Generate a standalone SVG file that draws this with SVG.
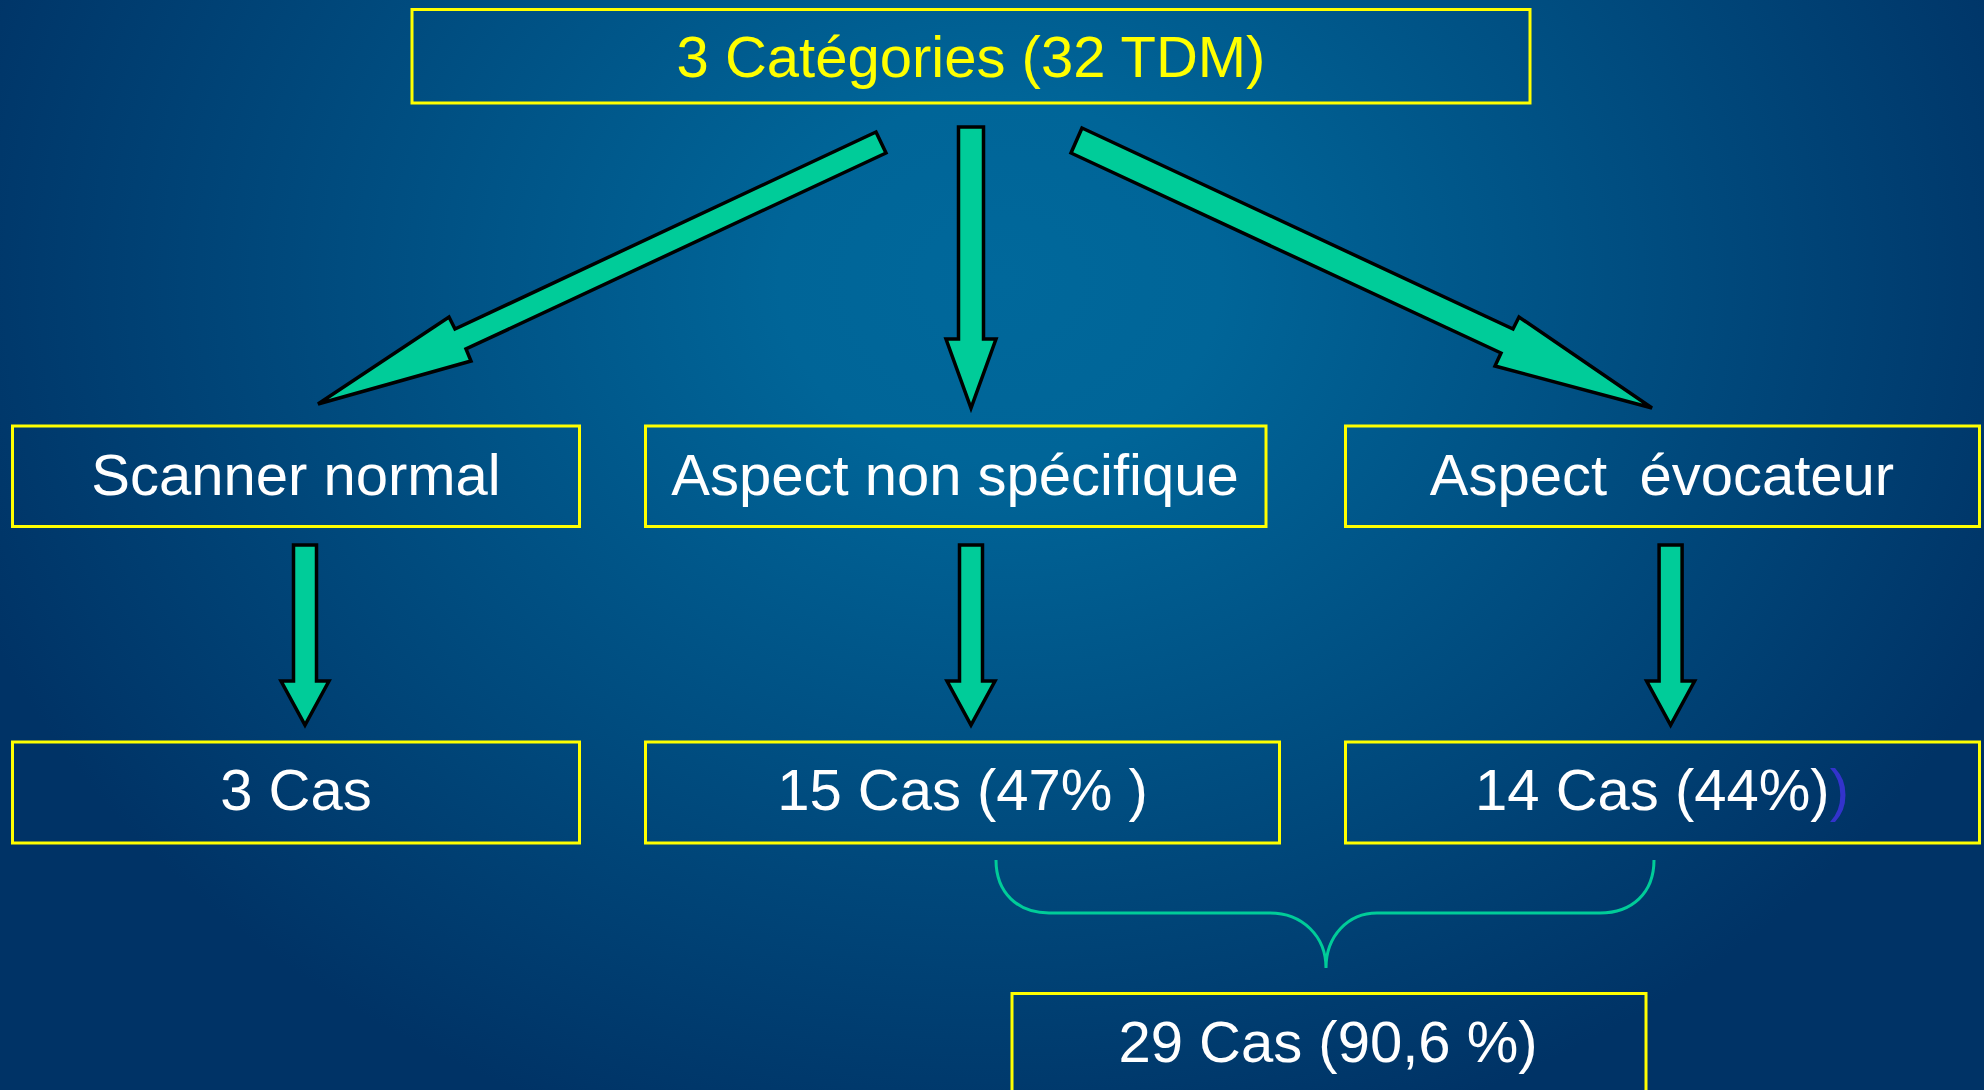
<svg xmlns="http://www.w3.org/2000/svg" width="1984" height="1090" viewBox="0 0 1984 1090">
  <defs>
    <radialGradient id="bg" gradientUnits="userSpaceOnUse" cx="1000" cy="280" r="1100" gradientTransform="translate(1000 280) scale(1 0.82) translate(-1000 -280)">
      <stop offset="0" stop-color="#00689b"/>
      <stop offset="0.2" stop-color="#006598"/>
      <stop offset="1" stop-color="#003366"/>
    </radialGradient>
    <path id="downArrow" d="M-11.5,-180 L11.5,-180 L11.5,-44 L24,-44 L0,0 L-24,-44 L-11.5,-44 Z"/>
  </defs>
  <style>
    .box { fill: none; stroke: #ffff00; stroke-width: 3; }
    .lbl { font-family: "Liberation Sans", Arial, sans-serif; font-size: 58px; fill: #ffffff; text-anchor: middle; }
    .top { fill: #ffff00; }
    .arrow { fill: #00cc99; stroke: #000000; stroke-width: 3.5; stroke-linejoin: miter; }
    .brace { fill: none; stroke: #00cc99; stroke-width: 3; }
  </style>
  <rect x="0" y="0" width="1984" height="1090" fill="url(#bg)"/>

  <g id="connectors">
    <polygon class="arrow" points="876,132 886,153 466,349 471,361 318,404 449,317 455,329"/>
    <polygon class="arrow" points="958.5,127 983.5,127 983.5,339 996,339 971,408 946,339 958.5,339"/>
    <polygon class="arrow" points="1082,128 1071,153 1501,353 1495,366 1652,408 1519,317 1513,329"/>
    <use href="#downArrow" class="arrow" transform="translate(305 725)"/>
    <use href="#downArrow" class="arrow" transform="translate(971 725)"/>
    <use href="#downArrow" class="arrow" transform="translate(1670.6 725)"/>
    <path class="brace" d="M996,860 C996,893 1018,913 1049,913 L1270,913 C1302,913 1326,936 1326,968 C1326,936 1348,913 1377,913 L1600,913 C1632,913 1654,893 1654,860"/>
  </g>

  <g id="node-categories">
    <rect class="box" x="412" y="9.5" width="1118" height="93.5"/>
    <text class="lbl top" x="971" y="77">3 Catégories (32 TDM)</text>
  </g>

  <g id="node-scanner-normal">
    <rect class="box" x="12.5" y="426" width="567" height="100.5"/>
    <text class="lbl" x="296" y="495">Scanner normal</text>
  </g>

  <g id="node-aspect-non-specifique">
    <rect class="box" x="645.5" y="426" width="620.5" height="100.5"/>
    <text class="lbl" x="955" y="495">Aspect non spécifique</text>
  </g>

  <g id="node-aspect-evocateur">
    <rect class="box" x="1345.5" y="426" width="634" height="100.5"/>
    <text class="lbl" x="1662" y="495" xml:space="preserve">Aspect  évocateur</text>
  </g>

  <g id="node-3-cas">
    <rect class="box" x="12.5" y="742" width="567" height="101"/>
    <text class="lbl" x="296" y="810">3 Cas</text>
  </g>

  <g id="node-15-cas">
    <rect class="box" x="645.5" y="742" width="634" height="101"/>
    <text class="lbl" x="962.5" y="810">15 Cas (47% )</text>
  </g>

  <g id="node-14-cas">
    <rect class="box" x="1345.5" y="742" width="634" height="101"/>
    <text class="lbl" x="1662" y="810">14 Cas (44%)<tspan fill="#3333cc">)</tspan></text>
  </g>

  <g id="node-29-cas">
    <rect class="box" x="1012" y="993.5" width="634" height="110"/>
    <text class="lbl" x="1328" y="1061.5">29 Cas (90,6 %)</text>
  </g>
</svg>
